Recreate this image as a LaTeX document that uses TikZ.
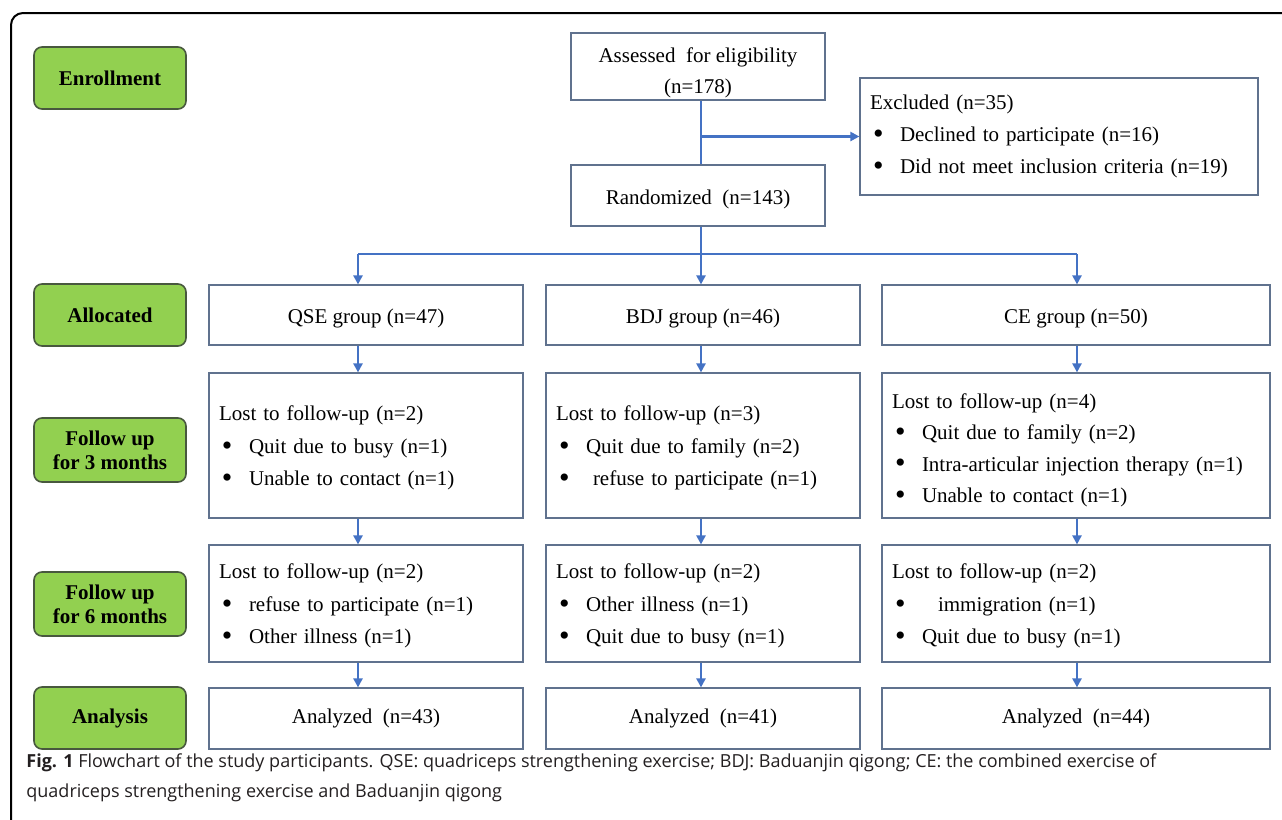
\documentclass[tikz,border=0pt]{standalone}
\usepackage{fontspec}
\setmainfont{Liberation Serif}
\newfontfamily\capfont{Open Sans}
\usetikzlibrary{arrows.meta}

\definecolor{stagegreen}{RGB}{146,208,80}
\definecolor{stageedge}{RGB}{72,88,62}
\definecolor{boxedge}{RGB}{96,114,142}
\definecolor{flowblue}{RGB}{68,114,196}
\definecolor{captext}{RGB}{35,31,32}

\begin{document}
\begin{tikzpicture}
	[x=0.5pt, y=-0.5pt,%
	stage/.style  ={rectangle,	rounded corners=4pt,	draw=stageedge,	fill=stagegreen,	thick,	inner sep=0pt,	minimum width=76pt,	minimum height=31pt,	align=center,	font=\bfseries\fontsize{10.5}{12}\selectfont},%
	box/.style    ={rectangle,	draw=boxedge,	semithick,	inner sep=0pt,	align=center,	font=\fontsize{10.5}{15.5}\selectfont},%
	listbox/.style={box,	align=left,	inner xsep=5pt,	text width=#1,	font=\fontsize{10.5}{16.2}\selectfont},%
	flow/.style   ={draw=flowblue,	line width=1.2pt},%
	arr/.style    ={flow,	-{Triangle[length=4.5pt, width=4.5pt]}},%
	]

	\newcommand{\lbul}{\makebox[15pt][l]{\hspace{1.5pt}\raisebox{-0.9pt}{\fontsize{15}{0}\selectfont\textbullet}}}
	\newcommand{\lstage}{110}

	% frame
	\clip (0,0) rectangle (1282,820);
	\draw [line width=1pt, rounded corners=6pt] (11,13) rectangle (1310,850);

	% stage labels
	\node (enroll)   at (\lstage,78)  [stage] {Enrollment};
	\node (alloc)    at (\lstage,315) [stage] {Allocated};
	\node (follow3)  at (\lstage,450) [stage, minimum height=32pt] {Follow up\\for 3 months};
	\node (follow6)  at (\lstage,604) [stage, minimum height=32pt] {Follow up\\for 6 months};
	\node (analysis) at (\lstage,718) [stage] {Analysis};

	% enrollment
	\node (assess) at (698,66.5)  [box, minimum width=127pt, minimum height=33.5pt] {\rule{0pt}{13.5pt}Assessed\ \ for eligibility\\(n=178)};
	\node (rand)   at (698,195.5) [box, minimum width=127pt, minimum height=30.5pt] {\rule{0pt}{11pt}Randomized\ \ (n=143)};
	\node (excl)   at (1059,136.5) [listbox=189pt, minimum height=58.5pt]
		{Excluded (n=35)\\\lbul Declined to participate (n=16)\\\lbul Did not meet inclusion criteria (n=19)};

	% columns
	\coordinate (colq)  at (358,0);
	\coordinate (colb)  at (701,0);
	\coordinate (colc)  at (1077,0);
	\coordinate (split) at (0,254);

	% groups
	\node (grpq) at (366,315)  [box, minimum width=157pt, minimum height=30pt] {\rule{0pt}{11pt}QSE group (n=47)};
	\node (grpb) at (703,315)  [box, minimum width=157pt, minimum height=30pt] {\rule{0pt}{11pt}BDJ group (n=46)};
	\node (grpc) at (1076,315) [box, minimum width=194pt, minimum height=30pt] {\rule{0pt}{11pt}CE group (n=50)};

	% follow up 3 months
	\node (fuaq) at (366,445.5)  [listbox=147pt, minimum height=72.5pt]
		{\rule{0pt}{10pt}Lost to follow-up (n=2)\\\lbul Quit due to busy (n=1)\\\lbul Unable to contact (n=1)};
	\node (fuab) at (703,445.5)  [listbox=147pt, minimum height=72.5pt]
		{\rule{0pt}{10pt}Lost to follow-up (n=3)\\\lbul Quit due to family (n=2)\\\lbul \ refuse to participate (n=1)};
	\node (fuac) at (1076,445.5) [listbox=184pt, minimum height=72.5pt, font=\fontsize{10.5}{15.6}\selectfont]
		{\rule{0pt}{12.3pt}Lost to follow-up (n=4)\\\lbul Quit due to family (n=2)\\\lbul Intra-articular injection therapy (n=1)\\\lbul Unable to contact (n=1)};

	% follow up 6 months
	\node (fubq) at (366,603.5)  [listbox=147pt, minimum height=58.5pt]
		{\rule{0pt}{10pt}Lost to follow-up (n=2)\\\lbul refuse to participate (n=1)\\\lbul Other illness (n=1)};
	\node (fubb) at (703,603.5)  [listbox=147pt, minimum height=58.5pt]
		{\rule{0pt}{10pt}Lost to follow-up (n=2)\\\lbul Other illness (n=1)\\\lbul Quit due to busy (n=1)};
	\node (fubc) at (1076,603.5) [listbox=184pt, minimum height=58.5pt]
		{\rule{0pt}{10pt}Lost to follow-up (n=2)\\\lbul \hspace{8pt}immigration (n=1)\\\lbul Quit due to busy (n=1)};

	% analysis
	\node (anaq) at (366,718.5)  [box, minimum width=157pt, minimum height=30.5pt] {Analyzed\ \ (n=43)};
	\node (anab) at (703,718.5)  [box, minimum width=157pt, minimum height=30.5pt] {Analyzed\ \ (n=41)};
	\node (anac) at (1076,718.5) [box, minimum width=194pt, minimum height=30.5pt] {Analyzed\ \ (n=44)};

	% interconnections
	\draw [flow] (assess.south -| colb) -- (rand.north -| colb);
	\draw [arr]  (colb |- excl.west) -- (excl.west);
	\draw [flow] (rand.south -| colb) -- (split -| colb);
	\draw [flow] (split -| colq) -- (split -| colc);
	\foreach \s in {q,b,c}%
	{
		\draw [arr] (split -| col\s)     -- (grp\s.north -| col\s);
		\draw [arr] (grp\s.south -| col\s) -- (fua\s.north -| col\s);
		\draw [arr] (fua\s.south -| col\s) -- (fub\s.north -| col\s);
		\draw [arr] (fub\s.south -| col\s) -- (ana\s.north -| col\s);
	}

	% caption
	\node (cap1) at (26,767) [anchor=base west, inner sep=0pt, text=captext, font=\capfont\fontsize{9}{15}\selectfont]
		{\textbf{Fig. 1} Flowchart of the study participants. QSE: quadriceps strengthening exercise; BDJ: Baduanjin qigong; CE: the combined exercise of};
	\node (cap2) at (26,797) [anchor=base west, inner sep=0pt, text=captext, font=\capfont\fontsize{9}{15}\selectfont]
		{quadriceps strengthening exercise and Baduanjin qigong};

\end{tikzpicture}
\end{document}
